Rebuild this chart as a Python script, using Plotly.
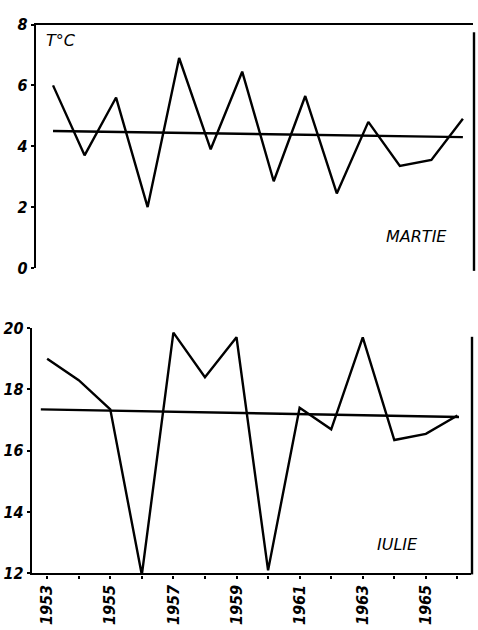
import plotly.graph_objects as go

years = [1953, 1954, 1955, 1956, 1957, 1958, 1959, 1960, 1961, 1962, 1963, 1964, 1965, 1966]
martie = [6.0, 3.7, 5.6, 2.0, 6.9, 3.9, 6.45, 2.85, 5.65, 2.45, 4.8, 3.35, 3.55, 4.9]
iulie = [19.0, 18.3, 17.35, 11.95, 19.85, 18.4, 19.7, 12.1, 17.4, 16.7, 19.7, 16.35, 16.55, 17.15]
martie_trend_x = [1953, 1966]
martie_trend_y = [4.5, 4.3]
iulie_trend_x = [1952.8, 1966.05]
iulie_trend_y = [17.35, 17.1]
x_tick_vals = years
x_tick_text = ["1953", "", "1955", "", "1957", "", "1959", "", "1961", "", "1963", "", "1965", ""]
top_y_ticks = [0, 2, 4, 6, 8]
bot_y_ticks = [12, 14, 16, 18, 20]

W, H = 478, 630
TICKFONT = dict(family="DejaVu Sans Condensed, DejaVu Sans", size=16, color="black", weight="bold", style="italic")
LABELFONT = dict(family="DejaVu Sans, Noto Sans", size=16, color="black", weight="normal", style="italic")
LW = 2.4

fig = go.Figure()
fig.add_trace(go.Scatter(x=years, y=martie, mode="lines", line=dict(color="black", width=LW), xaxis="x", yaxis="y"))
fig.add_trace(go.Scatter(x=martie_trend_x, y=martie_trend_y, mode="lines", line=dict(color="black", width=LW), xaxis="x", yaxis="y"))
fig.add_trace(go.Scatter(x=years, y=iulie, mode="lines", line=dict(color="black", width=LW), xaxis="x2", yaxis="y2", cliponaxis=False))
fig.add_trace(go.Scatter(x=iulie_trend_x, y=iulie_trend_y, mode="lines", line=dict(color="black", width=LW), xaxis="x2", yaxis="y2"))

def px(v):
    return v / W

def py(v):
    return 1 - v / H

fig.update_layout(
    width=W, height=H, margin=dict(l=0, r=0, t=0, b=0),
    paper_bgcolor="white", plot_bgcolor="white", showlegend=False,
    font=TICKFONT,
    xaxis=dict(domain=[px(36), px(473)], range=[1952.46, 1966.32], anchor="y", side="top",
               showline=True, linecolor="black", linewidth=LW, showgrid=False, zeroline=False,
               showticklabels=False, ticks=""),
    yaxis=dict(domain=[py(267), py(16)], range=[0, 8], anchor="x",
               showline=True, linecolor="black", linewidth=LW, showgrid=False, zeroline=False,
               tickvals=top_y_ticks, ticks="outside", ticklen=3, tickwidth=2, tickcolor="black",
               tickfont=TICKFONT),
    xaxis2=dict(domain=[px(32), px(471)], range=[1952.52, 1966.43], anchor="y2",
                showline=True, linecolor="black", linewidth=LW, showgrid=False, zeroline=False,
                tickvals=x_tick_vals, ticktext=x_tick_text, ticks="outside", ticklen=3, tickwidth=2,
                tickcolor="black", tickangle=-90, tickfont=TICKFONT),
    yaxis2=dict(domain=[py(582), py(329)], range=[12, 20], anchor="x2",
                showline=True, linecolor="black", linewidth=LW, showgrid=False, zeroline=False,
                tickvals=bot_y_ticks, ticks="outside", ticklen=3, tickwidth=2, tickcolor="black",
                tickfont=TICKFONT),
)

# right-hand frame lines
fig.add_shape(type="line", xref="paper", yref="paper", x0=px(474), x1=px(474), y0=py(24), y1=py(270),
              line=dict(color="black", width=LW))
fig.add_shape(type="line", xref="paper", yref="paper", x0=px(472), x1=px(472), y0=py(338), y1=py(583),
              line=dict(color="black", width=LW))

fig.add_annotation(text="T°C", xref="paper", yref="paper", x=px(44), y=py(32), xanchor="left", yanchor="middle",
                   showarrow=False, font=LABELFONT)
fig.add_annotation(text="MARTIE", xref="paper", yref="paper", x=px(416), y=py(235), xanchor="center", yanchor="middle",
                   showarrow=False, font=LABELFONT)
fig.add_annotation(text="IULIE", xref="paper", yref="paper", x=px(397), y=py(552), xanchor="center", yanchor="middle",
                   showarrow=False, font=LABELFONT)

fig.write_html("out.html", config={"displayModeBar": False},
               post_script="document.body.style.margin='0';document.body.style.overflow='hidden';")
